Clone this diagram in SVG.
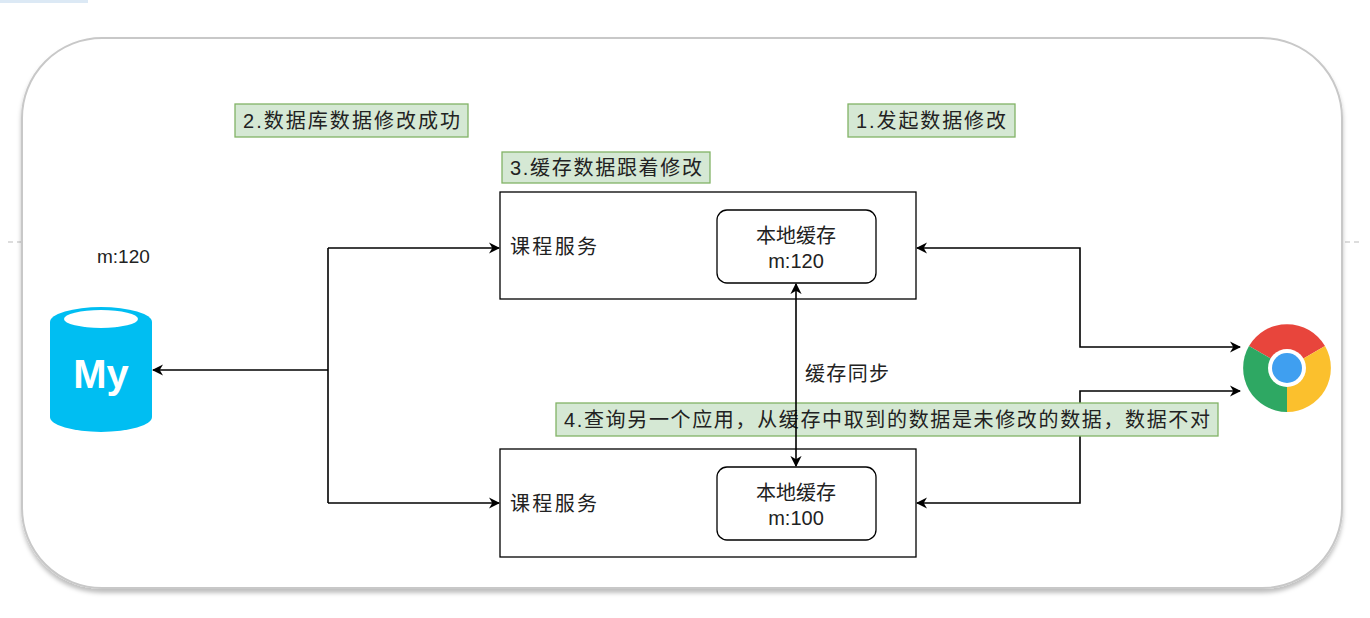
<svg xmlns="http://www.w3.org/2000/svg" width="1370" height="618" viewBox="0 0 1370 618">
<style>
text{font-family:"Liberation Sans","Noto Sans CJK SC",sans-serif;font-size:20px;fill:#222}
.lbl{fill:#d5e8d4;stroke:#82b366;stroke-width:1.3}
.box{fill:#fff;stroke:#000;stroke-width:1.3}
.ln{fill:none;stroke:#000;stroke-width:1.6}
</style>
<defs>
<marker id="a" viewBox="0 0 10 10" refX="9" refY="5" markerWidth="7" markerHeight="7" orient="auto-start-reverse"><path d="M0,0 L10,5 L0,10 L3,5 Z" fill="#000"/></marker>
<filter id="sh" x="-5%" y="-5%" width="110%" height="115%"><feDropShadow dx="0" dy="4" stdDeviation="2" flood-color="#000" flood-opacity="0.25"/></filter>
</defs>
<rect x="0" y="0" width="88" height="3" fill="#dce9f5"/>
<line x1="8" y1="242" x2="22" y2="242" stroke="#bbb" stroke-dasharray="5,4"/>
<line x1="1345" y1="242" x2="1362" y2="242" stroke="#bbb" stroke-dasharray="5,4"/>
<g id="container"><rect x="22" y="38" width="1320" height="550" rx="80" fill="#fff" stroke="#c8c8c8" stroke-width="2" filter="url(#sh)"/></g>
<g id="svc1"><rect class="box" x="500" y="192" width="416" height="107"/><text x="510" y="254" textLength="87">课程服务</text></g>
<g id="cache1"><rect class="box" x="717" y="210" width="159" height="73" rx="10"/><text x="796" y="243" text-anchor="middle">本地缓存</text><text x="796" y="268" text-anchor="middle">m:120</text></g>
<g id="svc2"><rect class="box" x="500" y="449" width="416" height="108"/><text x="510" y="511" textLength="87">课程服务</text></g>
<g id="cache2"><rect class="box" x="717" y="467" width="159" height="73" rx="10"/><text x="796" y="500" text-anchor="middle">本地缓存</text><text x="796" y="525" text-anchor="middle">m:100</text></g>
<g id="mysql">
<path d="M50,322 A51,15 0 0 1 152,322 V417 A51,15 0 0 1 50,417 Z" fill="#00bef2"/>
<ellipse cx="101" cy="319" rx="37" ry="9" fill="#fff"/>
<text x="101" y="388" text-anchor="middle" style="font-family:'Liberation Sans',sans-serif;font-weight:900;font-size:40px;fill:#fff">My</text>
<text x="97" y="263" style="font-size:19px">m:120</text>
</g>
<g id="chrome">
<path d="M1287,368 L1249,346 A44,44 0 0 1 1325,346 Z" fill="#e8453c"/>
<path d="M1287,368 L1325,346 A44,44 0 0 1 1287,412 Z" fill="#fbc02d"/>
<path d="M1287,368 L1287,412 A44,44 0 0 1 1249,346 Z" fill="#2ea863"/>
<circle cx="1287" cy="368" r="19" fill="#fff"/>
<circle cx="1287" cy="368" r="15" fill="#3f9ff0"/>
</g>
<g id="connectors">
<line class="ln" x1="328" y1="370" x2="153" y2="370" marker-end="url(#a)" stroke-width="2.2"/>
<path class="ln" d="M328,248 V503"/>
<line class="ln" x1="328" y1="248" x2="499" y2="248" marker-end="url(#a)"/>
<line class="ln" x1="328" y1="503" x2="499" y2="503" marker-end="url(#a)"/>
<path class="ln" d="M1240,347 H1080 V248 H917" marker-start="url(#a)" marker-end="url(#a)"/>
<path class="ln" d="M1240,391 H1080 V503 H917" marker-start="url(#a)" marker-end="url(#a)"/>
</g>
<g id="l2"><rect class="lbl" x="235" y="104" width="233" height="33"/><text x="243" y="128" textLength="217">2.数据库数据修改成功</text></g>
<g id="l1"><rect class="lbl" x="848" y="104" width="167" height="33"/><text x="856" y="128" textLength="150">1.发起数据修改</text></g>
<g id="l3"><rect class="lbl" x="502" y="152" width="208" height="31"/><text x="510" y="175" textLength="192">3.缓存数据跟着修改</text></g>
<g id="l4"><rect class="lbl" x="556" y="403" width="662" height="33"/><text x="564" y="427" textLength="646">4.查询另一个应用，从缓存中取到的数据是未修改的数据，数据不对</text></g>
<text x="805" y="381" textLength="84">缓存同步</text>
<g id="sync-connector">
<line class="ln" x1="796" y1="284" x2="796" y2="466" marker-start="url(#a)" marker-end="url(#a)"/>
</g>
</svg>
